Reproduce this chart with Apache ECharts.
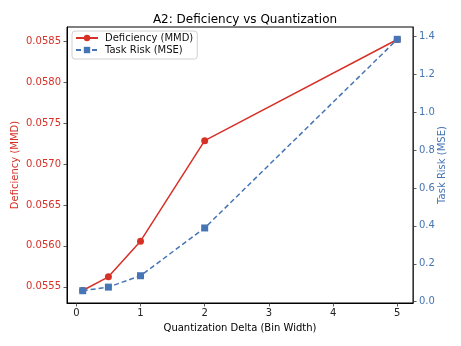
<!DOCTYPE html>
<html>
<head>
<meta charset="utf-8">
<script src="https://cdn.jsdelivr.net/npm/echarts@6/dist/echarts.min.js"></script>
<style>
  html, body { margin: 0; padding: 0; background: #fff; }
  #chart { width: 461px; height: 346px; }
</style>
</head>
<body>
<div id="chart"></div>
<script>
// Quantization bin widths and the two measured quantities
const deltas = [0.1, 0.5, 1, 2, 5];
const deficiency = [0.055455, 0.055622, 0.056057, 0.057285, 0.05852];
const taskRisk = [0.058, 0.077, 0.137, 0.389, 1.384];

const xTicks = [0, 1, 2, 3, 4, 5];
const leftTicks = [0.0555, 0.0560, 0.0565, 0.0570, 0.0575, 0.0580, 0.0585];
const rightTicks = [0.0, 0.2, 0.4, 0.6, 0.8, 1.0, 1.2, 1.4];

const RED = '#d73027';
const BLUE = '#4575b4';
const FONT = 'DejaVu Sans';

const chart = echarts.init(document.getElementById('chart'), null, { renderer: 'canvas' });

const tickStyle = { show: true, length: 3.5, inside: false, lineStyle: { color: '#333', width: 0.8 } };

chart.setOption({
  animation: false,
  textStyle: { fontFamily: FONT },
  title: {
    text: 'A2: Deficiency vs Quantization',
    left: 240, top: 9, textAlign: 'center',
    textStyle: { fontFamily: FONT, fontSize: 12, fontWeight: 'normal', color: '#000' }
  },
  grid: {
    left: 67, right: 48, top: 27, bottom: 43,
    containLabel: false, outerBoundsMode: 'none',
    show: true, borderColor: '#000', borderWidth: 1, backgroundColor: 'transparent'
  },
  legend: {
    orient: 'vertical', left: 72, top: 31,
    itemWidth: 22, itemHeight: 8, itemGap: 2,
    padding: [2, 4, 4, 3],
    backgroundColor: '#fff', borderColor: '#d0d0d0', borderWidth: 1, borderRadius: 3,
    textStyle: { fontFamily: FONT, fontSize: 10, color: '#111', padding: [0, 0, 0, 2] },
    data: ['Deficiency (MMD)', 'Task Risk (MSE)']
  },
  xAxis: {
    type: 'value', min: -0.145, max: 5.245,
    name: 'Quantization Delta (Bin Width)', nameLocation: 'middle', nameGap: 20,
    nameMoveOverlap: false,
    nameTextStyle: { fontFamily: FONT, fontSize: 10, color: '#000' },
    axisLine: { show: true, onZero: false, lineStyle: { color: '#000', width: 1 } },
    axisTick: Object.assign({ customValues: xTicks }, tickStyle),
    axisLabel: { customValues: xTicks, fontFamily: FONT, fontSize: 10, color: '#222', margin: 5 },
    splitLine: { show: false }
  },
  yAxis: [
    {
      type: 'value', position: 'left', min: 0.055302, max: 0.058673,
      name: 'Deficiency (MMD)', nameLocation: 'middle', nameGap: 47, nameRotate: 90,
      nameMoveOverlap: false,
      nameTextStyle: { fontFamily: FONT, fontSize: 10, color: RED },
      axisLine: { show: true, onZero: false, lineStyle: { color: '#000', width: 1 } },
      axisTick: Object.assign({ customValues: leftTicks }, tickStyle),
      axisLabel: {
        customValues: leftTicks, fontFamily: FONT, fontSize: 10, color: RED, margin: 6,
        formatter: v => v.toFixed(4)
      },
      splitLine: { show: false }
    },
    {
      type: 'value', position: 'right', min: -0.0068, max: 1.449,
      name: 'Task Risk (MSE)', nameLocation: 'middle', nameGap: 24, nameRotate: 90,
      nameMoveOverlap: false,
      nameTextStyle: { fontFamily: FONT, fontSize: 10, color: BLUE },
      axisLine: { show: true, onZero: false, lineStyle: { color: '#333', width: 1 } },
      axisTick: Object.assign({ customValues: rightTicks }, tickStyle),
      axisLabel: {
        customValues: rightTicks, fontFamily: FONT, fontSize: 10, color: BLUE, margin: 6,
        formatter: v => v.toFixed(1)
      },
      splitLine: { show: false }
    }
  ],
  series: [
    {
      name: 'Deficiency (MMD)', type: 'line', yAxisIndex: 0,
      data: deltas.map((d, i) => [d, deficiency[i]]),
      symbol: 'circle', symbolSize: 7,
      lineStyle: { color: RED, width: 1.5 },
      itemStyle: { color: RED },
      z: 3
    },
    {
      name: 'Task Risk (MSE)', type: 'line', yAxisIndex: 1,
      data: deltas.map((d, i) => [d, taskRisk[i]]),
      symbol: 'rect', symbolSize: 7,
      lineStyle: { color: BLUE, width: 1.5, type: [5, 3] },
      itemStyle: { color: BLUE },
      z: 4
    }
  ]
});
</script>
</body>
</html>
